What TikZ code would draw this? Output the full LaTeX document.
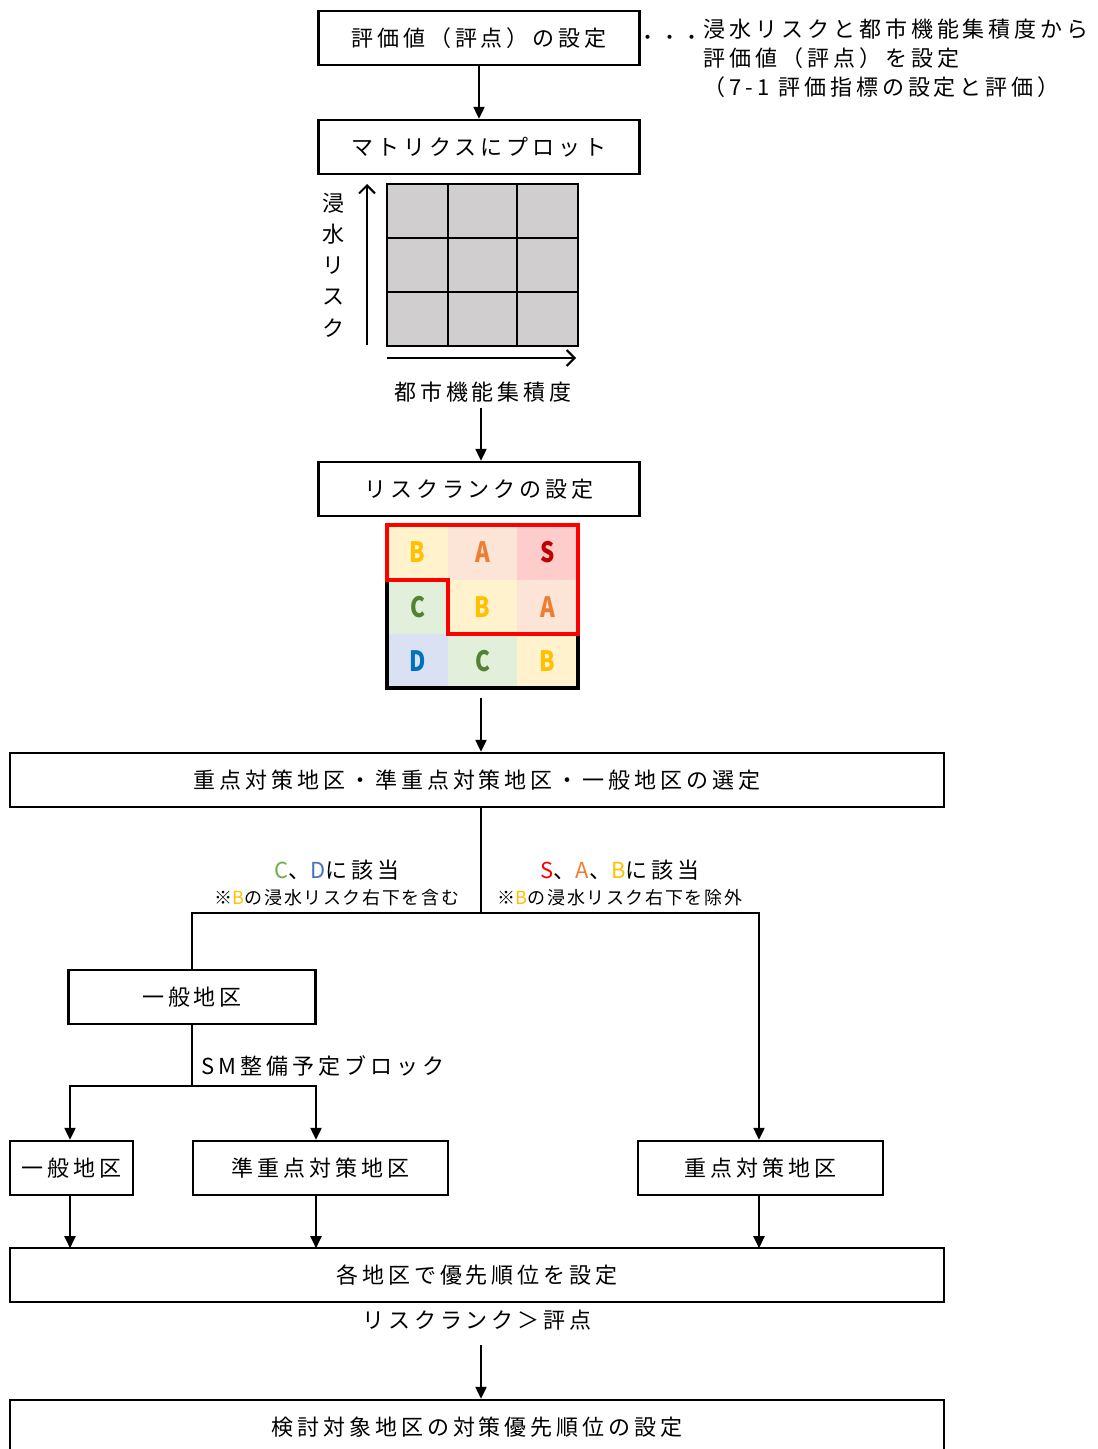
\documentclass[tikz,border=0pt]{standalone}
\usepackage{fontspec}
\setmainfont{Noto Sans CJK JP}
\newfontfamily\jpwide[LetterSpace=18]{Noto Sans CJK JP}
\usetikzlibrary{arrows.meta,calc}

\definecolor{yelF}{HTML}{FFF2CC}
\definecolor{yelT}{HTML}{FFC000}
\definecolor{oraF}{HTML}{FCE4D6}
\definecolor{oraT}{HTML}{ED7D31}
\definecolor{redF}{HTML}{FFCCCC}
\definecolor{redT}{HTML}{C00000}
\definecolor{grnF}{HTML}{E2EFDA}
\definecolor{grnT}{HTML}{548235}
\definecolor{bluF}{HTML}{D9E1F2}
\definecolor{bluT}{HTML}{0070C0}
\definecolor{cellGray}{HTML}{D0CECE}
\definecolor{labG}{HTML}{70AD47}
\definecolor{labB}{HTML}{4472C4}
\definecolor{labR}{HTML}{FF0000}

\newcommand\boxfont{\jpwide\fontsize{11pt}{13pt}\selectfont}
\newcommand\notefont{\fontsize{9pt}{11pt}\selectfont\addfontfeature{LetterSpace=9}}

\tikzset{
  box/.style={draw, line width=1.2pt, minimum height=27pt, inner sep=0pt, font=\boxfont},
  link/.style={line width=1.1pt},
  arr/.style={line width=1.1pt, -{Triangle[length=6pt,width=5.5pt]}},
  axis/.style={line width=1pt, -{Straight Barb[length=4pt,width=8pt]}},
  label/.style={font=\boxfont, inner sep=0pt},
  note/.style={font=\notefont, inner sep=0pt},
  rank/.style={font=\fontsize{14pt}{14pt}\selectfont\bfseries, inner sep=0pt}
}

\begin{document}
\begin{tikzpicture}[x=0.5pt, y=-0.5pt]
    \useasboundingbox (0,0) rectangle (1097,1449);
    \clip (0,0) rectangle (1097,1449);

    % Top: evaluation value
    \node[box, minimum width=160.5pt] (b1) at (479,38) {評価値（評点）の設定};
    \node[label] (dots) at (670,40) {\fontsize{9.5pt}{10pt}\selectfont ・・・};
    \node[label, anchor=north west, align=left, font=\jpwide\fontsize{11pt}{14.5pt}\selectfont] (memo) at (703,19)
        {浸水リスクと都市機能集積度から\\評価値（評点）を設定\\（7-1 評価指標の設定と評価）};

    \node[box, minimum width=160.5pt] (b2) at (479,147) {マトリクスにプロット};
    \draw[arr] (b1) -- (b2);

    % Plot matrix
    \fill[cellGray] (387,184) rectangle (578,346);
    \draw[line width=1pt] (387,184) rectangle (578,346);
    \foreach \xx in {448,517}
        \draw[line width=1pt] (\xx,184) -- (\xx,346);
    \foreach \yy in {238,292}
        \draw[line width=1pt] (387,\yy) -- (578,\yy);
    \coordinate (ybot) at (367,345);
    \coordinate (ytop) at (367,184);
    \draw[axis] (ybot) -- (ytop);
    \node[label, align=center, font=\boxfont\linespread{1.2}\selectfont] (ylab) at (333,265) {浸\\水\\リ\\ス\\ク};
    \coordinate (xl) at (387,358);
    \coordinate (xr) at (576,358);
    \draw[axis] (xl) -- (xr);
    \node[label] (xlab) at (483,392) {都市機能集積度};

    \node[box, minimum width=160.5pt] (b3) at (479,489) {リスクランクの設定};
    \draw[arr] (xlab.south -| 481,0) ++(0,5) coordinate (xdown) -- (xdown |- b3.north);

    % Risk rank matrix
    \foreach \xa/\xb/\ya/\yb/\fc/\tc/\t in {
        387/448/525/580/yelF/yelT/B, 448/517/525/580/oraF/oraT/A, 517/578/525/580/redF/redT/S,
        387/448/580/634/grnF/grnT/C, 448/517/580/634/yelF/yelT/B, 517/578/580/634/oraF/oraT/A,
        387/448/634/688/bluF/bluT/D, 448/517/634/688/grnF/grnT/C, 517/578/634/688/yelF/yelT/B} {
        \fill[\fc] (\xa,\ya) rectangle (\xb,\yb);
        \node[rank, text=\tc] at ({(\xa+\xb)/2},{(\ya+\yb)/2}) {\scalebox{0.8}[1]{\t}};
    }
    \draw[line width=2pt] (387,525) rectangle (578,688);
    \draw[labR, line width=2.2pt, line join=miter] (387,525) -- (578,525) -- (578,634) -- (448,634) -- (448,580) -- (387,580) -- cycle;
    \coordinate (rankout) at (481,698);

    \node[box, minimum width=467pt] (b4) at (477,780) {重点対策地区・準重点対策地区・一般地区の選定};
    \draw[arr] (rankout) -- (rankout |- b4.north);

    % Split by rank
    \coordinate (split) at (481,913);
    \draw[link] (b4.south -| split) -- (split);
    \node[label] (lcase) at (337,870) {\textcolor{labG}{C}、\textcolor{labB}{D}に該当};
    \node[note] (lnote) at (337,898) {※\textcolor{yelT}{B}の浸水リスク右下を含む};
    \node[label] (rcase) at (620,870) {\textcolor{labR}{S}、\textcolor{oraT}{A}、\textcolor{yelT}{B}に該当};
    \node[note] (rnote) at (620,898) {※\textcolor{yelT}{B}の浸水リスク右下を除外};

    \node[box, minimum width=123.5pt] (b5) at (192,997) {一般地区};
    \node[box, minimum width=122.5pt] (b8) at (760.5,1168) {重点対策地区};
    \draw[link] (split) -| (b5);
    \draw[arr] (split) -| ($(b8.north)+(-1.5,0)$);

    % SM block
    \path (b5.south) ++(0,61) coordinate (sm);
    \draw[link] (b5) -- (sm);
    \node[label, anchor=west] (smlab) at (201,1066) {SM整備予定ブロック};
    \node[box, minimum width=61.5pt] (b6) at (71.5,1168) {一般地区};
    \node[box, minimum width=127.5pt] (b7) at (320.5,1168) {準重点対策地区};
    \draw[arr] (sm) -| ($(b6.north)+(-1.5,0)$);
    \draw[arr] (sm) -| ($(b7.north)+(-4.5,0)$);

    % Priority
    \node[box, minimum width=467pt] (b9) at (477,1275) {各地区で優先順位を設定};
    \draw[arr] ($(b6.south)+(-1.5,0)$) -- ++(0,52);
    \draw[arr] ($(b7.south)+(-4.5,0)$) -- ++(0,52);
    \draw[arr] ($(b8.south)+(-1.5,0)$) -- ++(0,52);
    \node[label] (order) at (477,1320) {リスクランク＞評点};

    \node[box, minimum width=467pt] (b10) at (477,1427) {検討対象地区の対策優先順位の設定};
    \coordinate (ordout) at (481,1345);
    \draw[arr] (ordout) -- (ordout |- b10.north);
\end{tikzpicture}
\end{document}
